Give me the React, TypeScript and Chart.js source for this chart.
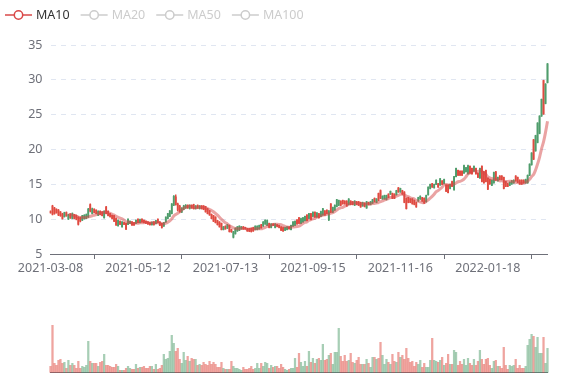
import React, { useEffect, useRef } from 'react';
import { Chart, registerables } from 'chart.js';

Chart.register(...registerables);

// x-axis tick labels, shown every TICK_STEP trading days
const tickLabels = ['2021-03-08', '2021-05-12', '2021-07-13', '2021-09-15', '2021-11-16', '2022-01-18'];
const TICK_STEP = 44;
const yTicks = [5, 10, 15, 20, 25, 30, 35];
const legendNames = ['MA10', 'MA20', 'MA50', 'MA100'];
const legendActive = [true, false, false, false];

const opens = [
  11.05, 11.9, 11.6, 11.4, 11.3, 11.05, 10.75, 10.35, 10.95, 10.0,
  10.75, 10.1, 10.65, 10.55, 10.3, 10.2, 9.85, 10.1, 10.1, 10.3,
  12.1, 10.8, 11.45, 11.3, 10.55, 11.15, 11.05, 10.2, 11.75, 11.15,
  10.8, 10.55, 10.5, 10.1, 9.05, 9.7, 8.9, 9.5, 9.4, 9.25,
  9.4, 9.6, 9.5, 9.4, 10.0, 9.5, 10.0, 9.85, 9.7, 9.6,
  9.5, 9.2, 9.6, 9.35, 10.0, 9.6, 9.4, 9.0, 9.6, 10.1,
  10.4, 10.8, 12.0, 13.2, 12.2, 11.9, 11.0, 11.4, 11.6, 12.0,
  11.5, 12.0, 12.1, 11.5, 12.0, 11.5, 11.9, 11.9, 11.8, 11.5,
  11.2, 10.7, 10.5, 10.3, 9.8, 9.6, 9.4, 8.5, 9.0, 8.7,
  9.1, 8.5, 7.4, 7.9, 8.3, 8.4, 8.6, 8.9, 8.8, 8.65,
  8.65, 8.7, 8.8, 8.5, 8.5, 8.6, 9.2, 9.0, 9.3, 9.1,
  9.4, 8.8, 9.3, 8.8, 9.2, 9.1, 8.9, 8.8, 8.4, 8.5,
  8.9, 8.5, 9.0, 9.1, 9.9, 10.2, 9.4, 9.6, 9.8, 10.6,
  10.1, 10.8, 10.4, 11.0, 10.3, 10.8, 10.4, 10.6, 11.2, 11.3,
  9.9, 12.2, 11.0, 11.3, 11.8, 12.0, 12.6, 12.7, 12.6, 12.6,
  12.1, 12.6, 12.5, 12.0, 12.5, 12.5, 12.4, 11.9, 12.3, 11.6,
  12.4, 12.1, 12.3, 13.0, 12.4, 13.7, 14.1, 12.9, 12.9, 12.8,
  13.6, 13.6, 13.7, 13.6, 13.5, 14.5, 13.9, 14.1, 13.9, 13.0,
  13.1, 12.9, 12.9, 12.7, 12.4, 12.6, 12.9, 13.1, 13.0, 12.5,
  13.5, 14.4, 15.1, 14.5, 15.0, 15.1, 14.9, 15.5, 15.1, 14.9,
  14.9, 14.4, 15.4, 14.2, 16.1, 17.0, 16.9, 16.9, 16.6, 16.8,
  16.5, 17.6, 17.3, 16.9, 17.3, 16.6, 15.9, 17.6, 16.8, 17.0,
  15.9, 15.7, 14.85, 15.2, 16.8, 15.5, 16.2, 16.2, 16.0, 15.4,
  15.1, 14.85, 15.05, 15.2, 16.2, 16.0, 15.6, 15.6, 15.6, 15.2,
  15.2, 16.3, 17.8, 21.4, 19.8, 21.0, 22.3, 24.8, 29.9, 26.6,
  29.6,
];
const closes = [
  11.0, 10.7, 10.8, 10.95, 10.6, 10.5, 10.1, 10.95, 10.5, 10.65,
  10.2, 10.8, 10.1, 10.0, 9.25, 9.7, 10.5, 10.55, 10.65, 11.45,
  11.15, 11.5, 10.95, 10.8, 11.15, 10.65, 10.5, 11.15, 10.8, 10.5,
  10.35, 10.1, 9.7, 9.15, 9.85, 9.25, 9.6, 9.25, 8.55, 10.0,
  9.7, 9.15, 9.15, 9.85, 9.5, 9.95, 9.6, 9.5, 9.4, 9.3,
  9.2, 9.55, 9.2, 9.8, 9.5, 9.1, 8.8, 9.5, 10.3, 10.8,
  11.2, 12.2, 13.3, 12.1, 11.3, 11.05, 11.6, 11.9, 12.0, 11.6,
  12.0, 11.6, 11.5, 11.9, 11.6, 11.9, 11.5, 11.4, 11.05, 10.8,
  10.6, 10.1, 9.7, 9.5, 9.2, 8.9, 8.5, 8.9, 8.6, 9.2,
  8.2, 8.2, 8.2, 8.7, 8.9, 9.0, 8.9, 8.6, 8.6, 8.3,
  8.25, 8.2, 8.3, 9.0, 9.0, 9.1, 8.75, 9.6, 9.85, 9.8,
  8.8, 9.3, 9.1, 9.3, 8.95, 8.8, 8.4, 8.3, 8.8, 8.9,
  8.6, 9.1, 9.6, 9.7, 9.3, 9.4, 10.1, 10.2, 10.4, 9.8,
  10.8, 9.95, 11.0, 10.3, 10.9, 10.2, 11.1, 11.5, 10.6, 10.8,
  11.2, 11.0, 11.7, 12.0, 12.8, 12.7, 12.0, 12.2, 12.2, 11.9,
  12.9, 12.1, 12.1, 12.6, 12.1, 12.0, 11.75, 12.4, 11.8, 12.5,
  12.1, 12.5, 12.8, 12.5, 12.9, 12.7, 13.0, 13.3, 13.4, 13.4,
  13.1, 14.0, 13.0, 13.0, 14.1, 13.9, 14.4, 13.6, 12.4, 11.5,
  12.4, 12.4, 12.2, 12.1, 11.75, 13.1, 13.3, 12.6, 12.3, 13.4,
  14.6, 15.0, 14.6, 15.0, 15.6, 14.6, 15.8, 15.0, 15.7, 14.0,
  13.8, 15.0, 14.7, 16.1, 17.3, 16.3, 16.3, 16.3, 17.7, 17.4,
  17.7, 16.6, 16.5, 17.6, 16.5, 16.0, 17.3, 15.4, 15.2, 15.4,
  14.3, 15.05, 15.6, 16.7, 15.6, 16.0, 15.7, 15.7, 14.4, 14.7,
  14.7, 15.3, 15.5, 15.6, 15.5, 15.3, 15.05, 15.05, 15.2, 15.7,
  16.3, 17.9, 19.5, 18.6, 22.0, 23.8, 24.8, 27.2, 25.1, 29.4,
  32.3,
];
const lows = [
  10.85, 10.6, 10.7, 10.85, 10.5, 10.4, 10.0, 10.3, 10.4, 9.95,
  10.1, 10.05, 10.05, 9.9, 9.15, 9.6, 9.8, 10.0, 10.05, 10.25,
  11.05, 10.75, 10.9, 10.75, 10.5, 10.6, 10.45, 10.15, 10.75, 10.45,
  10.3, 10.05, 9.65, 9.1, 9.0, 9.2, 8.85, 9.2, 8.5, 9.2,
  9.35, 9.1, 9.1, 9.35, 9.45, 9.45, 9.55, 9.45, 9.35, 9.25,
  9.15, 9.15, 9.15, 9.3, 9.45, 9.05, 8.7, 8.95, 9.55, 10.05,
  10.35, 10.75, 11.95, 12.0, 11.2, 11.0, 10.95, 11.35, 11.55, 11.55,
  11.45, 11.55, 11.45, 11.45, 11.55, 11.45, 11.45, 11.35, 11.0, 10.75,
  10.55, 10.05, 9.65, 9.45, 9.15, 8.85, 8.45, 8.45, 8.55, 8.65,
  8.15, 8.1, 7.3, 7.85, 8.25, 8.35, 8.55, 8.55, 8.55, 8.25,
  8.2, 8.15, 8.25, 8.45, 8.45, 8.55, 8.7, 8.95, 9.25, 9.05,
  8.75, 8.75, 9.05, 8.75, 8.9, 8.75, 8.35, 8.25, 8.35, 8.45,
  8.55, 8.45, 8.95, 9.05, 9.25, 9.35, 9.35, 9.55, 9.75, 9.75,
  10.05, 9.9, 10.35, 10.25, 10.25, 10.15, 10.35, 10.55, 10.55, 10.75,
  9.8, 10.95, 10.95, 11.25, 11.75, 11.95, 11.95, 12.15, 12.15, 11.85,
  12.05, 12.05, 12.05, 11.95, 12.05, 11.95, 11.7, 11.85, 11.75, 11.55,
  12.05, 12.05, 12.25, 12.45, 12.35, 12.65, 12.95, 12.85, 12.85, 12.75,
  13.05, 13.55, 12.95, 12.95, 13.45, 13.85, 13.85, 13.55, 12.35, 11.45,
  12.35, 12.35, 12.15, 12.05, 11.7, 12.55, 12.85, 12.55, 12.25, 12.45,
  13.45, 14.35, 14.55, 14.45, 14.95, 14.55, 14.85, 14.95, 15.05, 13.95,
  13.75, 14.35, 14.65, 14.15, 16.05, 16.25, 16.25, 16.25, 16.55, 16.75,
  16.45, 16.55, 16.45, 16.85, 16.45, 15.95, 15.85, 15.35, 15.15, 15.35,
  14.25, 15.0, 14.8, 15.15, 15.55, 15.45, 15.65, 15.65, 14.35, 14.65,
  14.65, 14.8, 15.0, 15.15, 15.45, 15.25, 15.0, 15.0, 15.15, 15.15,
  15.15, 16.25, 17.75, 18.55, 19.75, 20.95, 22.25, 24.75, 25.05, 26.55,
  29.55,
];
const highs = [
  11.2, 12.0, 11.7, 11.5, 11.4, 11.1, 10.85, 11.0, 11.05, 10.7,
  10.8, 10.9, 10.7, 10.6, 10.35, 10.3, 10.55, 10.65, 10.75, 11.55,
  12.2, 11.6, 11.5, 11.35, 11.2, 11.2, 11.1, 11.2, 11.85, 11.2,
  10.85, 10.6, 10.55, 10.15, 9.9, 9.75, 9.65, 9.55, 9.45, 10.05,
  9.75, 9.65, 9.55, 9.9, 10.05, 10.0, 10.05, 9.9, 9.75, 9.65,
  9.55, 9.6, 9.65, 9.85, 10.05, 9.65, 9.45, 9.55, 10.35, 10.85,
  11.25, 12.25, 13.4, 13.5, 12.3, 12.0, 11.65, 12.0, 12.1, 12.05,
  12.05, 12.05, 12.15, 11.95, 12.05, 11.95, 11.95, 11.95, 11.85, 11.55,
  11.25, 10.75, 10.55, 10.35, 9.85, 9.65, 9.45, 8.95, 9.05, 9.25,
  9.15, 8.55, 8.25, 8.75, 8.95, 9.05, 8.95, 8.95, 8.85, 8.7,
  8.7, 8.75, 8.85, 9.05, 9.05, 9.15, 9.25, 9.65, 9.9, 9.9,
  9.45, 9.35, 9.35, 9.35, 9.25, 9.15, 8.95, 8.85, 8.85, 8.95,
  8.95, 9.15, 9.65, 9.75, 9.95, 10.25, 10.15, 10.25, 10.45, 10.65,
  10.85, 10.85, 11.05, 11.05, 10.95, 10.85, 11.15, 11.55, 11.25, 11.35,
  11.25, 12.25, 11.75, 12.05, 12.85, 12.75, 12.65, 12.75, 12.65, 12.65,
  12.95, 12.65, 12.55, 12.65, 12.55, 12.55, 12.45, 12.45, 12.35, 12.55,
  12.45, 12.55, 12.85, 13.05, 12.95, 13.75, 14.2, 13.35, 13.45, 13.45,
  13.65, 14.05, 13.75, 13.65, 14.15, 14.55, 14.45, 14.15, 13.95, 13.05,
  13.15, 12.95, 12.95, 12.75, 12.45, 13.15, 13.35, 13.15, 13.05, 13.45,
  14.65, 15.05, 15.15, 15.05, 15.65, 15.15, 15.85, 15.55, 15.75, 14.95,
  14.95, 15.05, 15.45, 16.15, 17.35, 17.05, 16.95, 16.95, 17.75, 17.45,
  17.75, 17.65, 17.35, 17.65, 17.35, 16.65, 17.35, 17.65, 16.85, 17.05,
  15.95, 15.75, 15.65, 16.75, 16.85, 16.05, 16.25, 16.25, 16.05, 15.45,
  15.15, 15.35, 15.55, 15.65, 16.25, 16.05, 15.65, 15.65, 15.65, 15.75,
  16.35, 17.95, 19.55, 21.45, 22.05, 23.85, 24.85, 27.25, 29.95, 29.45,
  32.35,
];
const volumes = [
  6, 47, 9, 7, 12, 13, 9, 10, 4, 12,
  7, 9, 7, 4, 11, 4, 6, 5, 7, 31,
  11, 9, 9, 9, 6, 10, 11, 18, 7, 7,
  6, 5, 5, 8, 6, 2, 2, 2, 4, 6,
  4, 3, 3, 8, 4, 5, 5, 6, 4, 4,
  6, 6, 3, 8, 3, 4, 7, 18, 13, 14,
  21, 37, 29, 21, 24, 13, 9, 20, 12, 16,
  11, 14, 13, 13, 7, 8, 7, 10, 8, 7,
  11, 8, 10, 8, 5, 5, 10, 4, 3, 3,
  3, 11, 6, 4, 4, 3, 2, 5, 3, 3,
  4, 6, 3, 4, 9, 4, 9, 6, 10, 9,
  4, 7, 5, 6, 6, 4, 8, 5, 3, 2,
  3, 4, 4, 14, 5, 19, 10, 6, 11, 6,
  21, 10, 14, 9, 13, 14, 12, 28, 12, 13,
  17, 19, 8, 20, 20, 44, 16, 11, 17, 11,
  12, 19, 10, 9, 12, 15, 8, 8, 8, 13,
  9, 5, 15, 15, 13, 14, 30, 17, 8, 13,
  10, 8, 18, 11, 10, 20, 15, 17, 13, 24,
  14, 10, 11, 6, 10, 8, 12, 5, 9, 5,
  5, 12, 34, 12, 11, 10, 12, 15, 7, 9,
  18, 8, 8, 22, 20, 7, 11, 8, 13, 7,
  14, 9, 7, 13, 7, 11, 22, 13, 8, 13,
  14, 7, 4, 11, 12, 6, 6, 4, 25, 7,
  3, 7, 6, 7, 13, 4, 7, 4, 4, 6,
  27, 33, 38, 36, 25, 35, 19, 19, 35, 9,
  24,
];

const UP = '#4f9d6c';
const DOWN = '#e04a40';
const UP_VOL = 'rgba(79,157,108,0.5)';
const DOWN_VOL = 'rgba(224,74,64,0.5)';
const MA_COLOR = 'rgba(214,72,72,0.5)';
const LEGEND_COLOR = '#d94848';
const AXIS = '#6e7079';
const FONT = '"Noto Sans", "DejaVu Sans", sans-serif';

const legendPlugin = {
  id: 'maLegend',
  afterDraw(chart: any) {
    const ctx = chart.ctx as CanvasRenderingContext2D;
    ctx.save();
    ctx.font = `12.5px ${FONT}`;
    ctx.textBaseline = 'middle';
    ctx.textAlign = 'left';
    let x = 5;
    const y = 15;
    legendNames.forEach((name, i) => {
      const col = legendActive[i] ? LEGEND_COLOR : '#cccccc';
      ctx.strokeStyle = col;
      ctx.lineWidth = 1.5;
      ctx.beginPath();
      ctx.moveTo(x, y);
      ctx.lineTo(x + 27, y);
      ctx.stroke();
      ctx.beginPath();
      ctx.arc(x + 13.5, y, 4.2, 0, Math.PI * 2);
      ctx.fillStyle = '#ffffff';
      ctx.fill();
      ctx.stroke();
      ctx.fillStyle = legendActive[i] ? '#333333' : '#cccccc';
      ctx.fillText(name, x + 31, y + 0.5);
      x += 31 + ctx.measureText(name).width + 11;
    });
    ctx.restore();
  },
};

export default function App() {
  const priceRef = useRef<HTMLCanvasElement>(null);
  const volRef = useRef<HTMLCanvasElement>(null);

  useEffect(() => {
    const n = closes.length;
    const idx = closes.map((_, i) => i);
    const colors = idx.map((i) => (closes[i] >= opens[i] ? UP : DOWN));
    const volColors = idx.map((i) => (closes[i] >= opens[i] ? UP_VOL : DOWN_VOL));
    const wickData = idx.map((i) => ({ x: i, y: [lows[i], highs[i]] }));
    const bodyData = idx.map((i) => ({
      x: i,
      y: [Math.min(opens[i], closes[i]), Math.max(opens[i], closes[i])],
    }));
    const maData = idx
      .filter((i) => i >= 9)
      .map((i) => {
        let s = 0;
        for (let k = i - 9; k <= i; k++) s += closes[k];
        return { x: i, y: s / 10 };
      });
    const volData = idx.map((i) => ({ x: i, y: volumes[i] }));
    const tickIdx = tickLabels.map((_, k) => k * TICK_STEP);

    const price = new Chart(priceRef.current as HTMLCanvasElement, {
      type: 'bar',
      data: {
        datasets: [
          {
            type: 'line',
            data: maData,
            borderColor: MA_COLOR,
            borderWidth: 3,
            pointRadius: 0,
            tension: 0.3,
            order: 0,
            clip: false,
          } as any,
          {
            type: 'bar',
            data: wickData,
            backgroundColor: colors,
            barThickness: 0.8,
            grouped: false,
            order: 2,
            clip: false,
          } as any,
          {
            type: 'bar',
            data: bodyData,
            backgroundColor: colors,
            barThickness: 1.2,
            grouped: false,
            order: 1,
            clip: false,
          } as any,
        ],
      },
      options: {
        animation: false,
        responsive: false,
        devicePixelRatio: 1,
        layout: { padding: { top: 45, right: 29.5, left: 0, bottom: 0 } },
        plugins: { legend: { display: false }, tooltip: { enabled: false } },
        scales: {
          x: {
            type: 'linear',
            min: 0,
            max: n - 1,
            offset: false,
            afterBuildTicks: (axis: any) => {
              axis.ticks = tickIdx.map((v) => ({ value: v }));
            },
            afterFit: (s: any) => {
              s.height = 26;
            },
            grid: { drawOnChartArea: false, drawTicks: true, tickLength: 5, color: AXIS },
            border: { display: true, color: AXIS, width: 1 },
            ticks: {
              autoSkip: false,
              maxRotation: 0,
              padding: 2,
              color: AXIS,
              font: { family: FONT, size: 12.5 },
              callback: (v: any) => tickLabels[Math.round(Number(v) / TICK_STEP)] ?? '',
            },
          },
          y: {
            min: 5,
            max: 35,
            afterBuildTicks: (axis: any) => {
              axis.ticks = yTicks.map((v) => ({ value: v }));
            },
            afterFit: (s: any) => {
              s.width = 50.5;
            },
            grid: { color: '#e0e6f1', drawTicks: false },
            border: { display: false, dash: [5, 5] },
            ticks: {
              padding: 8,
              color: AXIS,
              font: { family: FONT, size: 12.5 },
            },
          },
        },
      } as any,
      plugins: [legendPlugin],
    });

    const vol = new Chart(volRef.current as HTMLCanvasElement, {
      type: 'bar',
      data: {
        datasets: [
          {
            data: volData,
            backgroundColor: volColors,
            barThickness: 1.6,
            grouped: false,
            clip: false,
          } as any,
        ],
      },
      options: {
        animation: false,
        responsive: false,
        devicePixelRatio: 1,
        layout: { padding: { top: 22.3, left: 50.5, right: 29.5, bottom: 7.7 } },
        plugins: { legend: { display: false }, tooltip: { enabled: false } },
        scales: {
          x: {
            type: 'linear',
            min: 0,
            max: n - 1,
            offset: false,
            afterFit: (s: any) => {
              s.height = 0;
            },
            ticks: { display: false },
            grid: { display: false, drawTicks: false },
            border: { display: true, color: AXIS, width: 1 },
          },
          y: { display: false, min: 0, max: 50 },
        },
      } as any,
    });

    return () => {
      price.destroy();
      vol.destroy();
    };
  }, []);

  return (
    <div style={{ position: 'fixed', left: 0, top: 0, width: 577, height: 380, background: '#ffffff' }}>
      <canvas
        ref={priceRef}
        width={577}
        height={280}
        style={{ position: 'absolute', left: 0, top: 0, width: 577, height: 280 }}
      />
      <canvas
        ref={volRef}
        width={577}
        height={80}
        style={{ position: 'absolute', left: 0, top: 300, width: 577, height: 80 }}
      />
    </div>
  );
}
